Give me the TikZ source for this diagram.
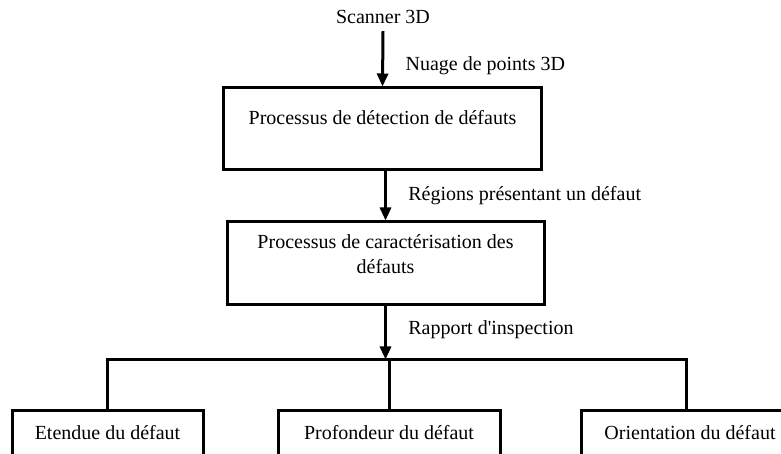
\documentclass[tikz,border=0pt]{standalone}
\usepackage{fontspec}
\setmainfont{Liberation Serif}
\newfontfamily\droite{Liberation Serif}
\usetikzlibrary{arrows.meta,calc}
\tikzset{
    boite/.style={draw, line width=3pt, inner sep=0pt},
    resultat/.style={boite, minimum height=58pt, text depth=16pt},
    fleche/.style={line width=3pt, -{Triangle[length=13pt,width=11pt]}},
    trait/.style={line width=3pt},
    etiquette/.style={anchor=west, xshift=18pt},
  }

\begin{document}
\begin{tikzpicture}[x=1pt,y=1pt,font=\fontsize{20}{25}\selectfont]
				  \useasboundingbox (0,0) rectangle (781,454);
				  
				  %SCANNER
				  \node (scanner) at (383,437) {Scanner 3D};
				  
				  %BOITES DES PROCESSUS
				  \node[boite, minimum width=318pt, minimum height=82pt, text depth=24pt] (detection) at (382.5,325) {Processus de détection de défauts};
				  \node[boite, minimum width=317pt, minimum height=83pt, align=center, text depth=18pt] (caracterisation) at (385.5,190.5) {Processus de caractérisation des\\défauts};
				  
				  %BOITES DES RESULTATS (coupees en bas)
				  \node[resultat, minimum width=191pt] (etendue) at (107.5,14) {Etendue du défaut};
				  \node[resultat, minimum width=222pt] (profondeur) at (389,14) {Profondeur du défaut};
				  \node[resultat, minimum width=218pt] (orientation) at (690,14) {Orientation du défaut};
				  
				  %FLECHES
				  \draw[fleche] ([yshift=-4pt]scanner.south) -- node[etiquette, yshift=-7pt]{Nuage de points 3D} (detection.north);
				  \draw[fleche] (caracterisation.north |- detection.south) -- node[etiquette]{Régions présentant un défaut} (caracterisation.north);
				  \coordinate (bus) at ($(caracterisation.south)+(0,-53)$);
				  \draw[fleche] (caracterisation.south) -- node[etiquette, yshift=3pt]{\droite Rapport d'inspection} (bus);
				  
				  %REPARTITION
				  \draw[trait] (etendue.north) |- (bus) -| ([xshift=-4pt]orientation.north);
				  \draw[trait] (profondeur.north) -- (profondeur.north |- bus);
				  \end{tikzpicture}
\end{document}
